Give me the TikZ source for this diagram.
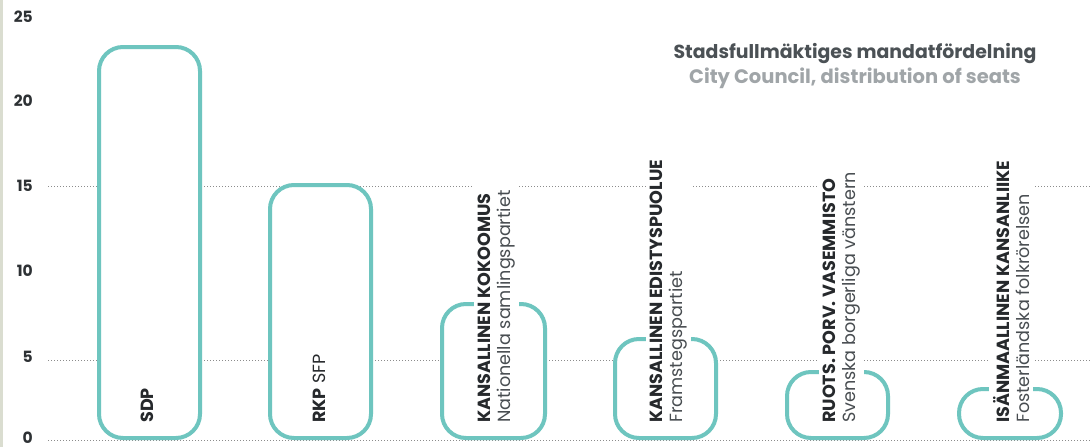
\documentclass[tikz,border=0pt]{standalone}
\usepackage{fontspec}
\setmainfont{Poppins}
\definecolor{barteal}{RGB}{110,197,191}
\definecolor{stripgray}{RGB}{218,221,208}
\definecolor{gridgray}{RGB}{140,140,140}
\definecolor{numdark}{RGB}{45,49,52}
\definecolor{labdark}{RGB}{38,41,44}
\definecolor{labgray}{RGB}{72,77,81}
\definecolor{titledark}{RGB}{75,81,85}
\definecolor{titlelight}{RGB}{160,165,168}
\begin{document}
\begin{tikzpicture}[x=1pt,y=-1pt,
  bar/.style={draw=barteal, line width=4pt, fill=white, rounded corners=24pt},
  gridline/.style={draw=gridgray, line width=1pt, dash pattern=on 1pt off 2pt},
  axnum/.style={anchor=east, font=\bfseries\fontsize{15.5}{15.5}\selectfont, text=numdark, inner sep=0pt},
  lab/.style={rotate=90, anchor=north west, align=left, fill=white, inner sep=4pt,
              font=\fontsize{17.6}{20}\selectfont, text=labdark},
  title/.style={anchor=base, font=\bfseries\fontsize{18.9}{25}\selectfont, inner sep=0pt}]
\fill[white] (0,0) rectangle (1091,447);
\fill[stripgray] (0,0) rectangle (3,447);
\useasboundingbox (0,0) rectangle (1091,447);

% axis numbers
\node[axnum] (n25) at (33,17) {25};
\node[axnum] (n20) at (33,101) {20};
\node[axnum] (n15) at (33,186) {15};
\node[axnum] (n10) at (33,271) {10};
\node[axnum] (n5) at (33,357) {5};
\node[axnum] (n0) at (33,438) {0};

% grid lines
\coordinate (g15a) at (48,186); \coordinate (g15b) at (1091,186);
\coordinate (g5a) at (48,360); \coordinate (g5b) at (1091,360);
\coordinate (g0a) at (48,440); \coordinate (g0b) at (1091,440);
\draw[gridline] (g15a) -- (g15b);
\draw[gridline] (g5a) -- (g5b);
\draw[gridline] (g0a) -- (g0b);

% bars
\draw[bar] (99,438) rectangle (200,47);
\draw[bar] (270,438) rectangle (371,185);
\draw[bar] (442,438) rectangle (545,304);
\draw[bar] (615,438) rectangle (716,339);
\draw[bar] (787,438) rectangle (888,372);
\draw[bar] (959,438) rectangle (1061,389);

% labels
\node[lab] (tSDP) at (137,427) {\textbf{SDP}};
\node[lab] (tRKP) at (309,427) {\textbf{RKP} SFP};
\node[lab] (tKOK) at (474,427) {\textbf{KANSALLINEN KOKOOMUS}\\{\color{labgray}Nationella samlingspartiet}};
\node[lab] (tEDI) at (646,427) {\textbf{KANSALLINEN EDISTYSPUOLUE}\\{\color{labgray}Framstegspartiet}};
\node[lab] (tVAS) at (819,427) {\textbf{RUOTS. PORV. VASEMMISTO}\\{\color{labgray}Svenska borgerliga vänstern}};
\node[lab] (tISA) at (989,427) {\textbf{ISÄNMAALLINEN KANSANLIIKE}\\{\color{labgray}Fosterländska folkrörelsen}};

% title
\node[title, text=titledark] (title1) at (855,58) {Stadsfullmäktiges mandatfördelning};
\node[title, text=titlelight, font=\bfseries\fontsize{19.5}{25}\selectfont] (title2) at (855,83) {City Council, distribution of seats};
\end{tikzpicture}
\end{document}
